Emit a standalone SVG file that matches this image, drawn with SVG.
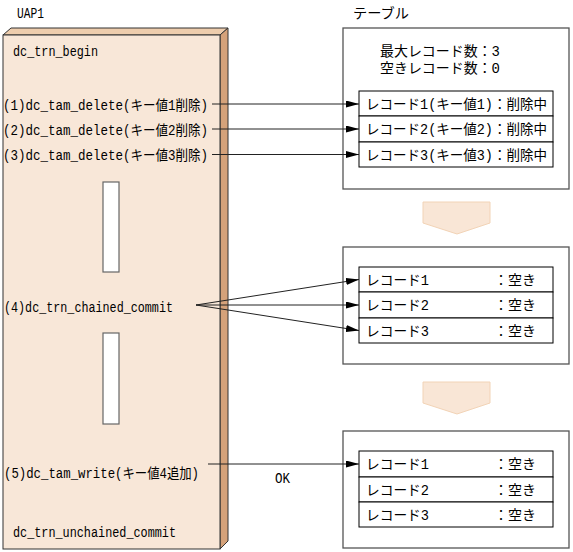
<svg xmlns="http://www.w3.org/2000/svg" width="573" height="552" viewBox="0 0 573 552">
<defs>
<style>
text{font-family:"Liberation Mono","Noto Sans CJK JP",monospace;font-size:14px;fill:#000}
.tbl{fill:#fff;stroke:#555;stroke-width:1.3}
.rec{fill:#fff;stroke:#000;stroke-width:1}
.ln{stroke:#222;stroke-width:1;fill:none}
.chev{fill:#F9E6D6;stroke:#F2D3B6;stroke-width:1}
.slot{fill:#fff;stroke:#666;stroke-width:1.2}
</style>
<marker id="ah" markerUnits="userSpaceOnUse" markerWidth="13" markerHeight="7" refX="13" refY="3.5" orient="auto">
<path d="M0,0 L13,3.5 L0,7 z" fill="#000"/>
</marker>
</defs>

<g id="uap1">
<text x="17" y="18" textLength="27" lengthAdjust="spacingAndGlyphs">UAP1</text>
<polygon points="3,35 11,28 228,28 220,35" fill="#EECDAD" stroke="#333" stroke-width="1"/>
<polygon points="220,35 228,28 228,541 220,549" fill="#D5A27A" stroke="#333" stroke-width="1"/>
<rect x="3" y="35" width="217" height="514" fill="#F8E7D8" stroke="#333" stroke-width="1"/>
<rect class="slot" x="103" y="182" width="16" height="90"/>
<rect class="slot" x="103" y="333" width="16" height="91"/>
<text x="13" y="56" textLength="85" lengthAdjust="spacingAndGlyphs">dc_trn_begin</text>
<text x="3" y="109.5" textLength="205" lengthAdjust="spacingAndGlyphs">(1)dc_tam_delete(キー値1削除)</text>
<text x="3" y="134.5" textLength="205" lengthAdjust="spacingAndGlyphs">(2)dc_tam_delete(キー値2削除)</text>
<text x="3" y="160" textLength="205" lengthAdjust="spacingAndGlyphs">(3)dc_tam_delete(キー値3削除)</text>
<text x="4" y="312" textLength="169" lengthAdjust="spacingAndGlyphs">(4)dc_trn_chained_commit</text>
<text x="4" y="478" textLength="195" lengthAdjust="spacingAndGlyphs">(5)dc_tam_write(キー値4追加)</text>
<text x="13" y="537" textLength="163" lengthAdjust="spacingAndGlyphs">dc_trn_unchained_commit</text>
</g>

<g id="table1">
<text x="353" y="18" textLength="56" lengthAdjust="spacingAndGlyphs">テーブル</text>
<rect class="tbl" x="343" y="28" width="226" height="161"/>
<text x="380" y="56" textLength="120" lengthAdjust="spacingAndGlyphs">最大レコード数：3</text>
<text x="380" y="73" textLength="120" lengthAdjust="spacingAndGlyphs">空きレコード数：0</text>
<rect class="rec" x="359" y="91" width="194" height="25"/>
<rect class="rec" x="359" y="116" width="194" height="26"/>
<rect class="rec" x="359" y="142" width="194" height="25"/>
<text x="366" y="108.5" textLength="181" lengthAdjust="spacingAndGlyphs">レコード1(キー値1)：削除中</text>
<text x="366" y="134" textLength="181" lengthAdjust="spacingAndGlyphs">レコード2(キー値2)：削除中</text>
<text x="366" y="159.5" textLength="181" lengthAdjust="spacingAndGlyphs">レコード3(キー値3)：削除中</text>
</g>

<g id="step1">
<polygon class="chev" points="423,202 490,202 490,223 457,234 423,223"/>
</g>

<g id="table2">
<rect class="tbl" x="343" y="247" width="226" height="117"/>
<rect class="rec" x="359" y="267" width="194" height="25"/>
<rect class="rec" x="359" y="292" width="194" height="26"/>
<rect class="rec" x="359" y="318" width="194" height="25"/>
<text x="366" y="284.5" textLength="63" lengthAdjust="spacingAndGlyphs">レコード1</text>
<text x="494" y="284.5" textLength="42" lengthAdjust="spacingAndGlyphs">：空き</text>
<text x="366" y="310" textLength="63" lengthAdjust="spacingAndGlyphs">レコード2</text>
<text x="494" y="310" textLength="42" lengthAdjust="spacingAndGlyphs">：空き</text>
<text x="366" y="335.5" textLength="63" lengthAdjust="spacingAndGlyphs">レコード3</text>
<text x="494" y="335.5" textLength="42" lengthAdjust="spacingAndGlyphs">：空き</text>
</g>

<g id="step2">
<polygon class="chev" points="423,382 490,382 490,403 457,414 423,403"/>
</g>

<g id="table3">
<rect class="tbl" x="343" y="431" width="226" height="117"/>
<rect class="rec" x="359" y="451" width="194" height="26"/>
<rect class="rec" x="359" y="477" width="194" height="25"/>
<rect class="rec" x="359" y="502" width="194" height="25"/>
<text x="366" y="469" textLength="63" lengthAdjust="spacingAndGlyphs">レコード1</text>
<text x="494" y="469" textLength="42" lengthAdjust="spacingAndGlyphs">：空き</text>
<text x="366" y="494.5" textLength="63" lengthAdjust="spacingAndGlyphs">レコード2</text>
<text x="494" y="494.5" textLength="42" lengthAdjust="spacingAndGlyphs">：空き</text>
<text x="366" y="519.5" textLength="63" lengthAdjust="spacingAndGlyphs">レコード3</text>
<text x="494" y="519.5" textLength="42" lengthAdjust="spacingAndGlyphs">：空き</text>
</g>

<g id="connectors">
<line class="ln" x1="212" y1="104" x2="359" y2="104" marker-end="url(#ah)"/>
<line class="ln" x1="212" y1="129" x2="359" y2="129" marker-end="url(#ah)"/>
<line class="ln" x1="212" y1="154.5" x2="359" y2="154.5" marker-end="url(#ah)"/>
<line class="ln" x1="196" y1="305" x2="359" y2="279.5" marker-end="url(#ah)"/>
<line class="ln" x1="196" y1="305" x2="359" y2="305" marker-end="url(#ah)"/>
<line class="ln" x1="196" y1="305" x2="359" y2="330.5" marker-end="url(#ah)"/>
<line class="ln" x1="208" y1="464" x2="359" y2="464" marker-end="url(#ah)"/>
<text x="275" y="483" textLength="15" lengthAdjust="spacingAndGlyphs">OK</text>
</g>
</svg>
